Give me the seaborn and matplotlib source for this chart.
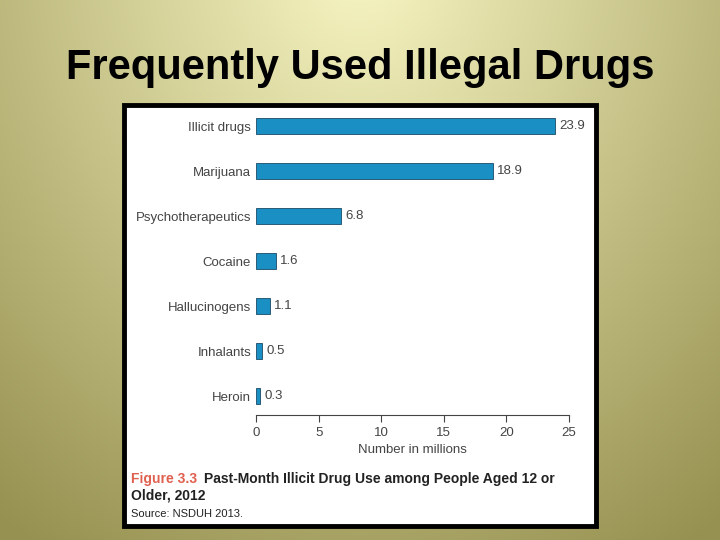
import numpy as np
import pandas as pd
import matplotlib
matplotlib.use("Agg")
import matplotlib.pyplot as plt
import seaborn as sns
from matplotlib.patches import Rectangle

categories = ["Illicit drugs", "Marijuana", "Psychotherapeutics", "Cocaine",
              "Hallucinogens", "Inhalants", "Heroin"]
values = [23.9, 18.9, 6.8, 1.6, 1.1, 0.5, 0.3]
value_labels = ["23.9", "18.9", "6.8", "1.6", "1.1", "0.5", "0.3"]
xticks = [0, 5, 10, 15, 20, 25]

sns.set_style("white")
plt.rcParams['font.family'] = ['Liberation Sans', 'DejaVu Sans']

fig = plt.figure(figsize=(7.2, 5.4), dpi=100)

# background gradient
bg = fig.add_axes([0, 0, 1, 1])
yy, xx = np.mgrid[0:540, 0:720]
d = np.sqrt(((xx - 360) / 600.0) ** 2 + ((yy + 40) / 700.0) ** 2)
d = np.clip(d, 0, 1)
c1 = np.array([248, 246, 195]) / 255
c2 = np.array([150, 145, 80]) / 255
img = c1[None, None, :] * (1 - d[..., None]) + c2[None, None, :] * d[..., None]
bg.imshow(img, extent=[0, 720, 540, 0], aspect='auto')
bg.set_xlim(0, 720); bg.set_ylim(540, 0)
bg.axis('off')
bg.add_patch(Rectangle((124, 105), 472, 421, facecolor='white', edgecolor='black', linewidth=3.5))
bg.text(360, 68, "Frequently Used Illegal Drugs", ha='center', va='center',
        fontsize=30, fontweight='bold', color='black')
bg.text(131, 479, "Figure 3.3", color='#e06050', fontsize=10, fontweight='bold', va='center')
bg.text(204, 479, "Past-Month Illicit Drug Use among People Aged 12 or",
        color='#222222', fontsize=10, fontweight='bold', va='center')
bg.text(131, 496, "Older, 2012", color='#222222', fontsize=10, fontweight='bold', va='center')
bg.text(131, 514, "Source: NSDUH 2013.", color='#222222', fontsize=8, va='center')

ax = fig.add_axes([256/720, 1 - 415/540, 313/720, 302/540])
df = pd.DataFrame({"cat": categories, "val": values})
sns.barplot(data=df, x="val", y="cat", color="#1a8fc4", edgecolor="#1a4a66",
            linewidth=0.6, width=0.36, saturation=1, ax=ax)
for i, (v, lab) in enumerate(zip(values, value_labels)):
    ax.text(v + 0.35, i, lab, va='center', ha='left', fontsize=9.5, color='#444444')
ax.set_xlim(0, 25)
ax.set_ylim(6.42, -0.29)
ax.set_xticks(xticks)
ax.set_xlabel("Number in millions", fontsize=9.5, color='#444444')
ax.set_ylabel("")
for s in ["top", "right", "left"]:
    ax.spines[s].set_visible(False)
ax.spines["bottom"].set_color('#444444')
ax.tick_params(axis='x', direction='out', length=5, color='#444444', labelsize=9.5,
               labelcolor='#444444', bottom=True)
ax.tick_params(axis='y', length=0, labelsize=9.5, labelcolor='#444444')
ax.set_facecolor('none')
fig.savefig("out.png", dpi=100)
